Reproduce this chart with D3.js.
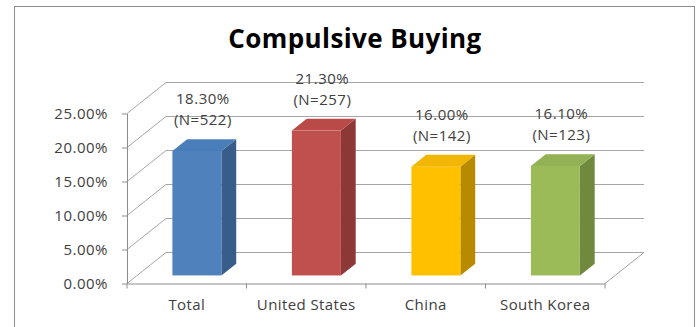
<!DOCTYPE html>
<html>
<head>
<meta charset="utf-8">
<script src="https://cdn.jsdelivr.net/npm/d3@7"></script>
<style>
  body { margin: 0; background: #fff; }
  svg { display: block; }
</style>
</head>
<body>
<div id="chart"></div>
<script>
// data
const categories = ["Total", "United States", "China", "South Korea"];
const values = [0.183, 0.213, 0.160, 0.161];
const counts = [522, 257, 142, 123];
const yTicks = [0, 0.05, 0.10, 0.15, 0.20, 0.25];

const faceColors = ["#4f81bd", "#c0504d", "#ffc000", "#9bbb59"];
const sideColors = ["#385d8a", "#8c3836", "#b88a00", "#71893f"];
const topColors  = ["#4a7ebb", "#b94a47", "#f2b600", "#93b255"];

const W = 699, H = 327;
const svg = d3.select("#chart").append("svg")
    .attr("width", W)
    .attr("height", H);

// outer frame
svg.append("rect")
    .attr("x", 14.5).attr("y", 6.5)
    .attr("width", 680).attr("height", 340)
    .attr("fill", "#fff")
    .attr("stroke", "#8c8c8c");

svg.append("text")
    .attr("x", 355).attr("y", 48)
    .attr("text-anchor", "middle")
    .style("font", "bold 26px 'Open Sans'")
    .style("letter-spacing", "0.4px")
    .style("fill", "#000")
    .text("Compulsive Buying");

// front plane of the plot, the back wall is pushed by depth
const plotLeft = 127, plotRight = 605, plotBottom = 283.5, plotTop = 113.5;
const depth = {dx: 39, dy: -31};

const x = d3.scaleBand().domain(categories).range([plotLeft, plotRight]);
const y = d3.scaleLinear().domain([0, 0.25]).range([plotBottom, plotTop]);

const grid = svg.append("g")
    .attr("fill", "none")
    .attr("stroke", "#a6a6a6")
    .attr("stroke-width", 1);

// back wall gridlines
grid.selectAll(".back")
    .data(yTicks)
    .join("line")
    .attr("class", "back")
    .attr("x1", plotLeft + depth.dx).attr("x2", plotRight + depth.dx)
    .attr("y1", d => y(d) + depth.dy).attr("y2", d => y(d) + depth.dy);

// side wall diagonals
grid.selectAll(".side")
    .data(yTicks)
    .join("line")
    .attr("class", "side")
    .attr("x1", plotLeft).attr("x2", plotLeft + depth.dx)
    .attr("y1", d => y(d)).attr("y2", d => y(d) + depth.dy);

// floor right edge
grid.append("line")
    .attr("x1", plotRight).attr("x2", plotRight + depth.dx)
    .attr("y1", y(0)).attr("y2", y(0) + depth.dy);

const labelFont = "15px 'Open Sans'";

// y axis
const yAxis = svg.append("g")
    .attr("transform", `translate(${plotLeft},0)`)
    .call(d3.axisLeft(y).tickValues(yTicks).tickFormat(d3.format(".2%")).tickSize(5).tickSizeOuter(0));
yAxis.select(".domain").attr("stroke", "#8c8c8c");
yAxis.selectAll(".tick line").attr("stroke", "#8c8c8c");
yAxis.selectAll("text")
    .attr("x", -19)
    .style("font", labelFont)
    .style("letter-spacing", "0.5px")
    .style("fill", "#404040");

// x axis
const xAxis = svg.append("g")
    .attr("transform", `translate(0,${plotBottom})`)
    .call(d3.axisBottom(x).tickSize(0).tickSizeOuter(0));
xAxis.select(".domain").attr("stroke", "#8c8c8c");
xAxis.selectAll("text")
    .attr("dy", "1.55em")
    .style("font", labelFont)
    .style("letter-spacing", "0.4px")
    .style("fill", "#404040");
xAxis.selectAll(".sep")
    .data(d3.range(categories.length + 1))
    .join("line")
    .attr("class", "sep")
    .attr("x1", i => plotLeft + i * x.step()).attr("x2", i => plotLeft + i * x.step())
    .attr("y1", 0).attr("y2", 5)
    .attr("stroke", "#8c8c8c");

// 3D bars
const barW = x.bandwidth() * 0.41;
const z0 = 0.26, zd = 0.38;   // bar position inside the depth
const bars = svg.append("g");

categories.forEach((c, i) => {
    const x0 = x(c) + (x.bandwidth() - barW) / 2 + depth.dx * z0;
    const yb = y(0) + depth.dy * z0;
    const yt = y(values[i]) + depth.dy * z0;
    const ox = depth.dx * zd, oy = depth.dy * zd;
    const g = bars.append("g");

    g.append("path")
        .attr("d", `M${x0 + barW},${yb} L${x0 + barW + ox},${yb + oy} L${x0 + barW + ox},${yt + oy} L${x0 + barW},${yt} Z`)
        .attr("fill", sideColors[i]);
    g.append("path")
        .attr("d", `M${x0},${yt} L${x0 + ox},${yt + oy} L${x0 + barW + ox},${yt + oy} L${x0 + barW},${yt} Z`)
        .attr("fill", topColors[i]);
    g.append("rect")
        .attr("x", x0).attr("y", yt)
        .attr("width", barW).attr("height", yb - yt)
        .attr("fill", faceColors[i]);

    const lx = x0 + barW / 2 + 6;
    const ly = yt + oy - 14;
    const t = g.append("text")
        .attr("text-anchor", "middle")
        .style("font", labelFont)
        .style("letter-spacing", "0.5px")
        .style("fill", "#404040");
    t.append("tspan").attr("x", lx).attr("y", ly - 21).text(d3.format(".2%")(values[i]));
    t.append("tspan").attr("x", lx).attr("y", ly).text(`(N=${counts[i]})`);
});
</script>
</body>
</html>
